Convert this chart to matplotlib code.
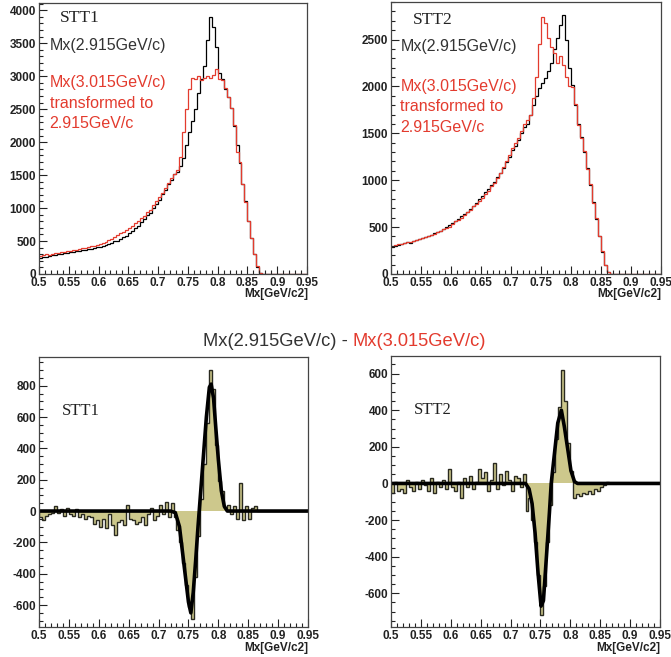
import numpy as np
import matplotlib
matplotlib.use("Agg")
import matplotlib.pyplot as plt
from matplotlib.ticker import MultipleLocator, FuncFormatter

plt.rcParams['font.family'] = ['Liberation Sans', 'DejaVu Sans']

# ---------------- data ----------------
bin_start = 0.5
bin_width = 0.005
n_bins = 90  # 0.5 .. 0.95

# STT1, Mx(2.915GeV/c) (black), bins from 0.500
stt1_black = [240, 255, 262, 270, 282, 290, 300, 305, 318, 322,
              330, 338, 342, 352, 360, 368, 375, 385, 395, 405,
              412, 425, 445, 450, 470, 495, 505, 530, 560, 580,
              625, 650, 705, 735, 795, 835, 895, 930, 1000, 1060,
              1120, 1215, 1275, 1370, 1430, 1520, 1540, 1640, 1760, 1950,
              2150, 2320, 2500, 2750, 2950, 3150, 3550, 3900, 3750, 3450,
              3050, 2950, 2800, 2680, 2520, 2250, 1950, 1680, 1360, 1100,
              800, 540, 300, 110, 15]
# STT1, Mx(3.015GeV/c) transformed (red)
stt1_red = [280, 285, 298, 292, 305, 312, 318, 330, 338, 345,
            352, 362, 370, 380, 392, 400, 410, 420, 432, 445,
            450, 470, 490, 510, 535, 565, 590, 625, 630, 670,
            705, 735, 775, 800, 850, 885, 935, 975, 1040, 1100,
            1170, 1235, 1305, 1375, 1450, 1515, 1580, 1780, 2150, 2500,
            2800, 2980, 2950, 3000, 2940, 2970, 3000, 2980, 3020, 3110,
            2950, 2940, 2820, 2690, 2510, 2260, 1850, 1700, 1370, 1090,
            810, 550, 310, 120, 20]

# STT2, Mx(2.915GeV/c) (black)
stt2_black = [290, 300, 312, 318, 330, 338, 335, 355, 362, 375,
              385, 398, 410, 420, 435, 448, 462, 480, 500, 520,
              545, 570, 590, 615, 640, 665, 695, 730, 760, 795,
              830, 870, 905, 945, 985, 1030, 1075, 1130, 1190, 1250,
              1320, 1370, 1430, 1500, 1570, 1600, 1700, 1800, 1900, 1980,
              2040, 2090, 2160, 2250, 2400, 2520, 2660, 2760, 2500, 2200,
              2020, 1800, 1600, 1460, 1300, 1130, 950, 770, 590, 410,
              230, 100, 20]
# STT2, Mx(3.015GeV/c) transformed (red)
stt2_red = [300, 310, 322, 318, 330, 340, 345, 352, 362, 372,
            385, 395, 405, 415, 430, 445, 460, 475, 490, 505,
            530, 560, 580, 600, 625, 660, 680, 720, 745, 780,
            815, 850, 890, 935, 975, 1025, 1080, 1140, 1210, 1270,
            1340, 1400, 1450, 1520, 1600, 1640, 1700, 1880, 2100, 2450,
            2740, 2680, 2520, 2420, 2360, 2250, 2320, 2230, 2100, 2000,
            1990, 1810, 1590, 1450, 1310, 1120, 960, 760, 600, 400,
            240, 95, 25]

# Difference histograms Mx(2.915) - Mx(3.015)
stt1_diff = [-40, -60, -30, -20, -10, 30, -10, 10, -30, 20,
             -20, -30, 10, -40, -20, -50, -30, -40, -80, -60,
             -100, -50, -110, -20, -90, -150, -70, -60, -90, 40,
             -50, -60, -80, -70, -40, -90, -20, 20, -60, -30,
             40, -20, 60, -40, 50, -40, -120, -200, -330, -470,
             -610, -690, -420, -160, 80, 300, 560, 900, 780, 420,
             190, 130, 20, 40, -20, 30, -50, 180, -60, 30,
             -50, 20, 30]
stt2_diff = [-50, 10, -40, -30, -50, 20, -20, -40, 10, -30,
             20, -10, -40, 30, -50, 10, -20, 20, -30, 80,
             -20, -40, 10, -80, 30, -20, 40, -30, 10, 80,
             30, 60, -40, 20, 110, -30, 50, -10, 70, 20,
             -40, 40, 30, -20, 50, -150, -80, -200, -320, -500,
             -720, -560, -320, -120, 60, 240, 420, 620, 450, 220,
             70, -80, -60, -70, -50, -60, -40, -60, -30, -40,
             -20, -10, 10]

# Fitted difference curves
stt1_fit_x = [0.50, 0.72, 0.728, 0.735, 0.740, 0.745, 0.750, 0.754, 0.758, 0.762,
              0.766, 0.770, 0.775, 0.780, 0.785, 0.788, 0.792, 0.796, 0.800, 0.805,
              0.810, 0.815, 0.95]
stt1_fit_y = [0, 0, -10, -100, -260, -420, -580, -650, -520, -320,
              -100, 100, 350, 600, 790, 810, 720, 520, 330, 130,
              30, 0, 0]
stt2_fit_x = [0.50, 0.725, 0.731, 0.736, 0.741, 0.746, 0.751, 0.755, 0.760, 0.765,
              0.768, 0.774, 0.779, 0.785, 0.790, 0.796, 0.801, 0.807, 0.812, 0.95]
stt2_fit_y = [0, 0, -30, -110, -270, -490, -670, -640, -400, -160,
              0, 180, 330, 400, 310, 180, 70, 10, 0, 0]

x_ticks = [0.5, 0.55, 0.6, 0.65, 0.7, 0.75, 0.8, 0.85, 0.9, 0.95]

# ---------------- helpers ----------------
edges = bin_start + bin_width * np.arange(n_bins + 1)

def pad(v):
    v = list(v)
    return np.array(v + [0] * (n_bins - len(v)), dtype=float)

RED = '#e33b2e'
DARK = '#333333'
FILL = '#cdc88c'

def style_axes(ax, ymajor, yminor, ylim):
    ax.set_xlim(0.5, 0.95)
    ax.set_ylim(*ylim)
    ax.set_xticks(x_ticks)
    ax.xaxis.set_minor_locator(MultipleLocator(0.01))
    ax.yaxis.set_major_locator(MultipleLocator(ymajor))
    ax.yaxis.set_minor_locator(MultipleLocator(yminor))
    ax.xaxis.set_major_formatter(FuncFormatter(lambda v, p: ('%g' % round(v, 3))))
    ax.yaxis.set_major_formatter(FuncFormatter(lambda v, p: '%d' % round(v)))
    ax.tick_params(which='both', direction='in', top=False, right=False,
                   color='#222222', width=0.8)
    ax.tick_params(which='major', length=6, pad=2)
    ax.tick_params(which='minor', length=3)
    for lab in ax.get_xticklabels() + ax.get_yticklabels():
        lab.set_fontfamily('Liberation Sans')
        lab.set_fontweight('bold')
        lab.set_fontsize(8.5)
        lab.set_color('#222222')
    for s in ax.spines.values():
        s.set_color('#444444')
        s.set_linewidth(0.9)

W, H = 671, 657
fig = plt.figure(figsize=(W / 100, H / 100), dpi=100)

def axes_px(l, t, r, b):
    return fig.add_axes([l / W, 1 - b / H, (r - l) / W, (b - t) / H])

ax1 = axes_px(39, 3, 307, 274)
ax2 = axes_px(391, 2, 661, 274)
ax3 = axes_px(39, 357, 308, 627)
ax4 = axes_px(391, 356, 660, 627)

# top panels
for ax, blk, red, ylim in [
        (ax1, stt1_black, stt1_red, (0, 4110)),
        (ax2, stt2_black, stt2_red, (0, 2900))]:
    ax.stairs(pad(blk), edges, color='black', lw=0.9, baseline=None)
    ax.stairs(pad(red), edges, color=RED, lw=0.9, baseline=None)
    style_axes(ax, 500, 100, ylim)

ax1.text(0.078, 0.945, 'STT1', transform=ax1.transAxes, family='Liberation Serif',
         fontsize=12.5, color='#222222', va='center')
ax1.text(0.04, 0.845, 'Mx(2.915GeV/c)', transform=ax1.transAxes, fontsize=11.5,
         color=DARK, va='center')
for i, s in enumerate(['Mx(3.015GeV/c)', 'transformed to', '2.915GeV/c']):
    ax1.text(0.04, 0.705 - i * 0.075, s, transform=ax1.transAxes, fontsize=11.5,
             color=RED, va='center')

ax2.text(0.08, 0.935, 'STT2', transform=ax2.transAxes, family='Liberation Serif',
         fontsize=12.5, color='#222222', va='center')
ax2.text(0.035, 0.835, 'Mx(2.915GeV/c)', transform=ax2.transAxes, fontsize=11.5,
         color=DARK, va='center')
for i, s in enumerate(['Mx(3.015GeV/c)', 'transformed to', '2.915GeV/c']):
    ax2.text(0.035, 0.69 - i * 0.075, s, transform=ax2.transAxes, fontsize=11.5,
             color=RED, va='center')

# bottom panels
for ax, d, fx, fy, ylim, name in [
        (ax3, stt1_diff, stt1_fit_x, stt1_fit_y, (-740, 983), 'STT1'),
        (ax4, stt2_diff, stt2_fit_x, stt2_fit_y, (-784, 696), 'STT2')]:
    dv = pad(d)
    ax.stairs(dv, edges, fill=True, color=FILL, baseline=0)
    ax.stairs(dv, edges, color='#2a2a20', lw=1.0, baseline=0)
    ax.plot(fx, fy, color='black', lw=2.6, solid_joinstyle='round')
    style_axes(ax, 200, 50, ylim)
    ax.text(0.085, 0.8, name, transform=ax.transAxes, family='Liberation Serif',
            fontsize=12, color='#222222', va='center')

# x labels
for xr, yy in [(308, 294), (661, 294), (308, 648), (660, 648)]:
    fig.text(xr / W, 1 - yy / H, 'Mx[GeV/c2]', ha='right', va='center',
             fontsize=8.5, fontweight='bold', color='#222222')

# middle title
fig.text(348 / W, 1 - 341 / H, 'Mx(2.915GeV/c) -', ha='right', va='center',
         fontsize=13.2, color=DARK)
fig.text(353 / W, 1 - 341 / H, 'Mx(3.015GeV/c)', ha='left', va='center',
         fontsize=13.2, color=RED)

fig.savefig('out.png', dpi=100)
